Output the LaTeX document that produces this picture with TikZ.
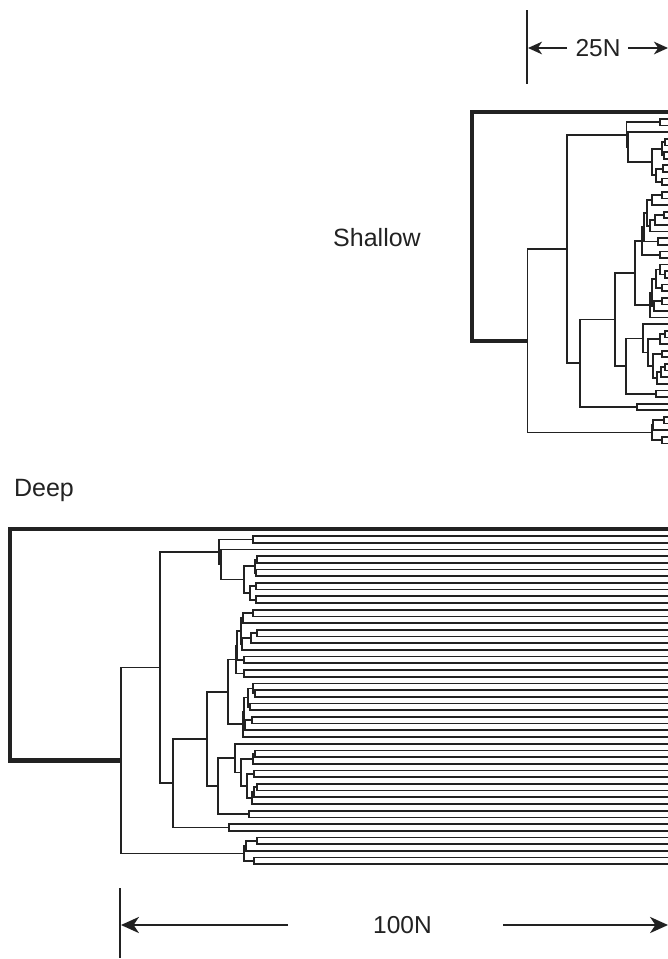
\documentclass[tikz,border=0pt]{standalone}
\usepackage{fontspec}
\setmainfont{Liberation Sans}
\usetikzlibrary{arrows.meta, calc}
\definecolor{Ink}{HTML}{222222}

\tikzset{
  branch/.style={Ink, line width=1.7pt},
  outgroup/.style={Ink, line width=4.5pt},
  tickline/.style={Ink, line width=2pt},
  bar/.style={Ink, line width=2pt, -{Stealth[length=#1, width=0.9*#1, inset=0.3*#1]}},
  lbl/.style={inner sep=0pt, text=Ink, font=\fontsize{25}{30}\selectfont}
}

% one bracket: name, x, upper child, lower child
\newcommand{\br}[4]{%
  \path let \p1=($(\tp#3)!.5!(\tp#4)$) in (#2pt,\y1) coordinate (\tp#1);
  \draw[branch] (\tp#1) |- (\tp#3) (\tp#1) |- (\tp#4);
}

% name / x deep / x shallow / upper / lower
\def\treelist{c01/253/660/L0/L1,
  c34/257/665/L3/L4, c56/256/664/L5/L6, A3/255/662/c34/c56,
  c78/256/663/L7/L8, c910/256/662/L9/L10, A4/250/656/c78/c910,
  A2/244/652/A3/A4, Ab/221/628/L2/A2, A/219/626.5/c01/Ab,
  c1112/253/662/L11/L12, Ba/243/652/c1112/L13,
  c1415/257/664/L14/L15, Bb/251/655/c1415/L16, Bc/242/650/Bb/L17,
  B1/241/647/Ba/Bc, c1819/244/658/L18/L19, Bd/237/644/B1/c1819,
  c2021/244/660/L20/L21, B/236/642/Bd/c2021,
  c2324/255/665/L23/L24, Ca/253/660/L22/c2324, c2526/250/662/L25/L26,
  Cb/248/656/Ca/c2526, c2728/252/662/L27/L28, Cc/245/654/c2728/L29,
  Cd/244/652/Cb/Cc, C/243/650/Cd/L30,
  N228/228/635/B/C,
  c3233/255/665/L32/L33, Da/253/660/c3233/L34, c3536/254/662/L35/L36,
  c3738/257/665/L37/L38, Db/254/661/c3738/L39, Dc/252/657/Db/L40,
  Dd/247/653/c3536/Dc, D1/241/648/Da/Dd, D/235/643/L31/D1,
  c4142/249/656/L41/L42, N218/218/626/D/c4142,
  N207/207/615/N228/N218, c4344/229/637/L43/L44,
  N173/173/580/N207/c4344, N160/160/567/A/N173,
  c4546/257/664/L45/L46, Ea/246/653/c4546/L47, c4849/254/662/L48/L49,
  E/244/652/Ea/c4849, R/121/527.5/N160/E}

\begin{document}
\begin{tikzpicture}[x=1pt, y=-1pt]
  \useasboundingbox (0,0) rectangle (668,959);

  % the two genealogies, same shape, other branch lengths
  \foreach \tp/\yo/\dy/\col/\xo/\yt in {s/119/6.62/2/472/112, d/536/6.70/1/10/529} {
    \foreach \i in {0,...,49} \coordinate (\tp L\i) at (668,{\yo+\dy*\i});
    \foreach \nd/\xd/\xs/\ca/\cb in \treelist {
      \ifnum\col=1 \let\xx\xd \else \let\xx\xs \fi
      \br{\nd}{\xx}{\ca}{\cb}
    }
    \coordinate (\tp O) at (\xo,\yt);
    \coordinate (\tp T) at (668,\yt);
    \draw[outgroup] (\tp R) -| (\tp O) -- (\tp T);
  }

  \node[lbl] (shallow) at (377,238) {Shallow};
  \node[lbl] (deep) at (44,490) {Deep};

  % scale bars
  \coordinate (t25a) at (527,10);
  \coordinate (t25b) at (527,84);
  \draw[tickline] (t25a) -- (t25b);
  \node[lbl, font=\fontsize{24.5}{29}\selectfont] (n25) at (598,48) {25N};
  \coordinate (a25l) at (567,48);
  \coordinate (a25r) at (628,48);
  \coordinate (e25l) at (528,48);
  \coordinate (e25r) at (668,48);
  \draw[bar=14pt] (a25l) -- (e25l);
  \draw[bar=14pt] (a25r) -- (e25r);

  \coordinate (t100a) at (120,888);
  \coordinate (t100b) at (120,958);
  \draw[tickline] (t100a) -- (t100b);
  \node[lbl, font=\fontsize{24.5}{29}\selectfont] (n100) at (402.5,925) {100N};
  \coordinate (a100l) at (288,925);
  \coordinate (a100r) at (503,925);
  \coordinate (e100l) at (121,925);
  \coordinate (e100r) at (668,925);
  \draw[bar=18pt] (a100l) -- (e100l);
  \draw[bar=18pt] (a100r) -- (e100r);
\end{tikzpicture}
\end{document}
